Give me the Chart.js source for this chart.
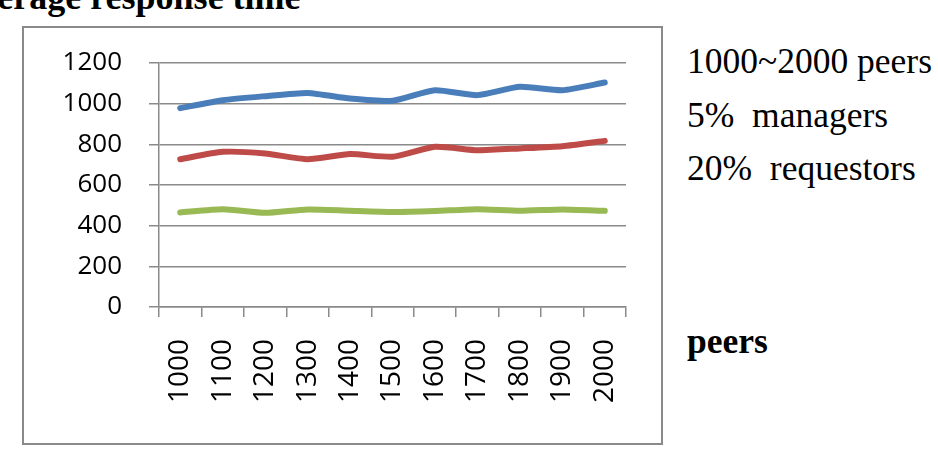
<!DOCTYPE html>
<html>
<head>
<meta charset="utf-8">
<script src="https://cdn.jsdelivr.net/npm/chart.js@4.4.1/dist/chart.umd.min.js"></script>
<style>
  html, body { margin: 0; padding: 0; background: #fff; overflow: hidden; }
  body { width: 938px; height: 455px; position: relative; }
  .txt { position: absolute; font-family: "Liberation Serif", "Times New Roman", serif; color: #000; white-space: nowrap; line-height: 36px; }
  #box { position: absolute; left: 22px; top: 26px; width: 637px; height: 415px; border: 2px solid #8a8a8a; }
  #wrap { position: absolute; left: 24px; top: 28px; width: 635px; height: 413px; }
</style>
</head>
<body>
<div class="txt" style="left:-44px; top:-21px; font-size:36px; font-weight:bold;">Average response time</div>
<div id="box"></div>
<div id="wrap"><canvas id="myChart"></canvas></div>
<div class="txt" style="left:687px; top:43px; font-size:35.5px;">1000~2000 peers</div>
<div class="txt" style="left:687px; top:97px; font-size:35.5px;">5%&nbsp; managers</div>
<div class="txt" style="left:687px; top:150px; font-size:35.5px;">20%&nbsp; requestors</div>
<div class="txt" style="left:687px; top:323px; font-size:35.5px; font-weight:bold;">peers</div>
<script>
const labels = ["1000", "1100", "1200", "1300", "1400", "1500", "1600", "1700", "1800", "1900", "2000"];
const blueValues = [978, 1017, 1037, 1053, 1025, 1014, 1066, 1042, 1083, 1066, 1104];
const redValues = [727, 763, 755, 727, 752, 739, 788, 771, 780, 791, 817];
const greenValues = [465, 481, 463, 480, 473, 467, 472, 481, 473, 480, 473];
const yTicks = [0, 200, 400, 600, 800, 1000, 1200];

const gridColor = "#8a8a8a";
const tickFamily = "'Open Sans', 'Noto Sans', sans-serif";

const data = {
  labels: labels,
  datasets: [
    { data: blueValues, borderColor: "#4a7ebb", backgroundColor: "#4a7ebb" },
    { data: redValues, borderColor: "#be4b48", backgroundColor: "#be4b48" },
    { data: greenValues, borderColor: "#98b954", backgroundColor: "#98b954" },
  ],
};

const config = {
  type: "line",
  data: data,
  options: {
    responsive: true,
    maintainAspectRatio: false,
    animation: false,
    layout: { padding: { top: 35, right: 33, left: 0, bottom: 0 } },
    elements: {
      line: { borderWidth: 6, tension: 0.2, borderCapStyle: "round", borderJoinStyle: "round" },
      point: { radius: 0 },
    },
    plugins: {
      legend: { display: false },
      tooltip: { enabled: false },
    },
    scales: {
      x: {
        offset: true,
        grid: { drawOnChartArea: false, offset: true, color: gridColor, lineWidth: 1.5, tickLength: 10 },
        border: { color: gridColor, width: 1.5 },
        ticks: {
          autoSkip: false,
          minRotation: 90,
          maxRotation: 90,
          padding: 22,
          color: "#000",
          font: { family: tickFamily, size: 28 },
        },
        afterFit: (scale) => {
          scale.height = 134;
          scale.paddingLeft = 0;
          scale.paddingRight = 0;
        },
      },
      y: {
        min: 0,
        max: 1200,
        afterBuildTicks: (scale) => { scale.ticks = yTicks.map((v) => ({ value: v })); },
        grid: { color: gridColor, lineWidth: 1.5, tickLength: 10 },
        border: { color: gridColor, width: 1.5 },
        ticks: {
          padding: 27,
          color: "#000",
          font: { family: tickFamily, size: 26 },
          callback: (v) => String(v),
        },
        afterFit: (scale) => {
          scale.width = 135;
          scale.paddingTop = 0;
          scale.paddingBottom = 0;
        },
      },
    },
  },
};

new Chart(document.getElementById("myChart").getContext("2d"), config);
</script>
</body>
</html>
